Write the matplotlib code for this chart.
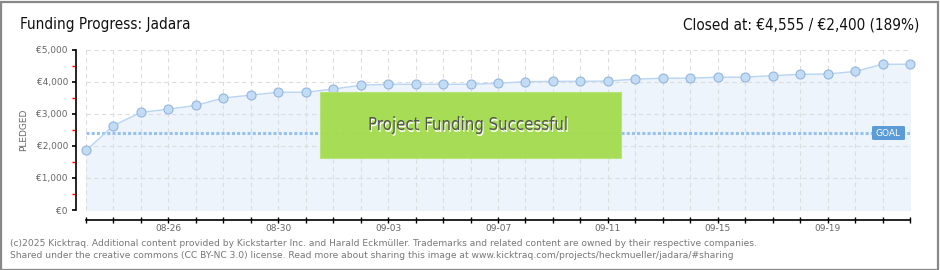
import matplotlib
matplotlib.use("Agg")
import matplotlib.pyplot as plt
from matplotlib.patches import Rectangle, FancyBboxPatch
from matplotlib.ticker import MultipleLocator, FuncFormatter
from matplotlib import font_manager

dates = ["08-23","08-24","08-25","08-26","08-27","08-28","08-29","08-30","08-31",
         "09-01","09-02","09-03","09-04","09-05","09-06","09-07","09-08","09-09",
         "09-10","09-11","09-12","09-13","09-14","09-15","09-16","09-17","09-18",
         "09-19","09-20","09-21","09-22"]
pledged = [1860, 2640, 3050, 3150, 3270, 3500, 3590, 3680, 3680, 3780, 3900, 3930,
           3930, 3930, 3930, 3960, 4010, 4020, 4020, 4030, 4090, 4120, 4120, 4150,
           4150, 4200, 4240, 4250, 4330, 4555, 4555]
goal = 2400
labeled = ["08-26", "08-30", "09-03", "09-07", "09-11", "09-15", "09-19"]
title = "Funding Progress: Jadara"
closed_text = "Closed at: \u20ac4,555 / \u20ac2,400 (189%)"
footer1 = ("(c)2025 Kicktraq. Additional content provided by Kickstarter Inc. and Harald Eckm\u00fcller. "
           "Trademarks and related content are owned by their respective companies.")
footer2 = ("Shared under the creative commons (CC BY-NC 3.0) license. Read more about sharing this image at "
           "www.kicktraq.com/projects/heckmueller/jadara/#sharing")

names = {f.name for f in font_manager.fontManager.ttflist}
cond = [n for n in ["Liberation Sans Narrow", "DejaVu Sans Condensed"] if n in names]
head_family = cond + ["DejaVu Sans"]
head_stretch = "normal" if cond else "condensed"

W, H = 940, 270
fig = plt.figure(figsize=(W/100, H/100), dpi=100)
fig.patch.set_facecolor("white")

def fx(px): return px / W
def fy(py): return 1 - py / H

ax = fig.add_axes([fx(86), fy(210), fx(910) - fx(86), fy(50) - fy(210)])
x = list(range(len(dates)))
ax.set_xlim(0, len(dates) - 1)
ax.set_ylim(0, 5000)
ax.set_facecolor("white")

ax.fill_between(x, pledged, 0, color="#EDF4FC", zorder=1)
ax.plot(x, pledged, color="#B9D5F2", lw=1, zorder=3)
ax.plot(x, pledged, ls="none", marker="o", ms=6.5, mfc="#C2DCF6", mec="#94B6DC",
        mew=0.8, zorder=4, clip_on=False)
ax.axhline(goal, color="#97C2EE", lw=2.2, ls=(0, (1.0, 0.7)), zorder=2)

for xi in x:
    ax.axvline(xi, color="#DDDDDD", lw=0.8, ls=(0, (4, 3)), zorder=1.5)
for yv in range(1000, 5001, 1000):
    ax.axhline(yv, color="#DDDDDD", lw=0.8, ls=(0, (4, 3)), zorder=1.5)

for s in ["top", "right"]:
    ax.spines[s].set_visible(False)
ax.spines["left"].set_position(("outward", 7))
ax.spines["bottom"].set_position(("outward", 7))
ax.spines["left"].set_linewidth(1.2)
ax.spines["bottom"].set_linewidth(1.2)

ax.yaxis.set_major_locator(MultipleLocator(1000))
ax.yaxis.set_minor_locator(MultipleLocator(500))
ax.yaxis.set_major_formatter(FuncFormatter(lambda v, p: "\u20ac{:,}".format(int(v))))
ax.tick_params(axis="y", which="major", direction="out", length=3, width=1.2,
               labelsize=6.5, labelcolor="#666666", pad=3)
ax.tick_params(axis="y", which="minor", direction="out", length=3, width=1.0, color="red")

ax.set_xticks(x)
ax.set_xticklabels([d if d in labeled else "" for d in dates])
ax.tick_params(axis="x", which="major", direction="inout", length=4.5, width=1.0,
               labelsize=6.5, labelcolor="#666666", pad=1)
ax.set_ylabel("PLEDGED", fontsize=6.5, color="#666666", labelpad=6)

# GOAL tag
fig.patches.append(FancyBboxPatch((fx(872), fy(140)), fx(905) - fx(872), fy(126) - fy(140),
                                  boxstyle="round,pad=0,rounding_size=0.003",
                                  transform=fig.transFigure, facecolor="#5B9BD8",
                                  edgecolor="none", zorder=10))
fig.text(fx(888.5), fy(133), "GOAL", color="white", fontsize=6.5, ha="center",
         va="center", zorder=11)

# success box
fig.patches.append(Rectangle((fx(320), fy(158)), fx(621) - fx(320), fy(92) - fy(158),
                             transform=fig.transFigure, facecolor="#A5DC50",
                             edgecolor="#B8E37A", lw=0.8, alpha=0.97, zorder=10))
fig.text(fx(469), fy(126.5), "Project Funding Successful", color="white",
         fontsize=12, ha="center", va="center", zorder=11,
         family=head_family, stretch=head_stretch)
fig.text(fx(468), fy(125.5), "Project Funding Successful", color="#555555",
         fontsize=12, ha="center", va="center", zorder=12,
         family=head_family, stretch=head_stretch)

# header
fig.text(fx(20), fy(25), title, fontsize=11, color="#111111", ha="left", va="center",
         family=head_family, stretch=head_stretch)
fig.text(fx(919), fy(25), closed_text, fontsize=11, color="#111111", ha="right",
         va="center", family=head_family, stretch=head_stretch)

# footer
fig.text(fx(10), fy(243), footer1, fontsize=6.6, color="#777777", ha="left", va="center")
fig.text(fx(10), fy(255), footer2, fontsize=6.6, color="#777777", ha="left", va="center")

# border
fig.patches.append(Rectangle((0.5 / W, 0.5 / H), 1 - 2.5 / W, 1 - 2.5 / H,
                             transform=fig.transFigure, facecolor="none",
                             edgecolor="#888888", lw=1.6, zorder=20))

fig.savefig("out.png", dpi=100)
